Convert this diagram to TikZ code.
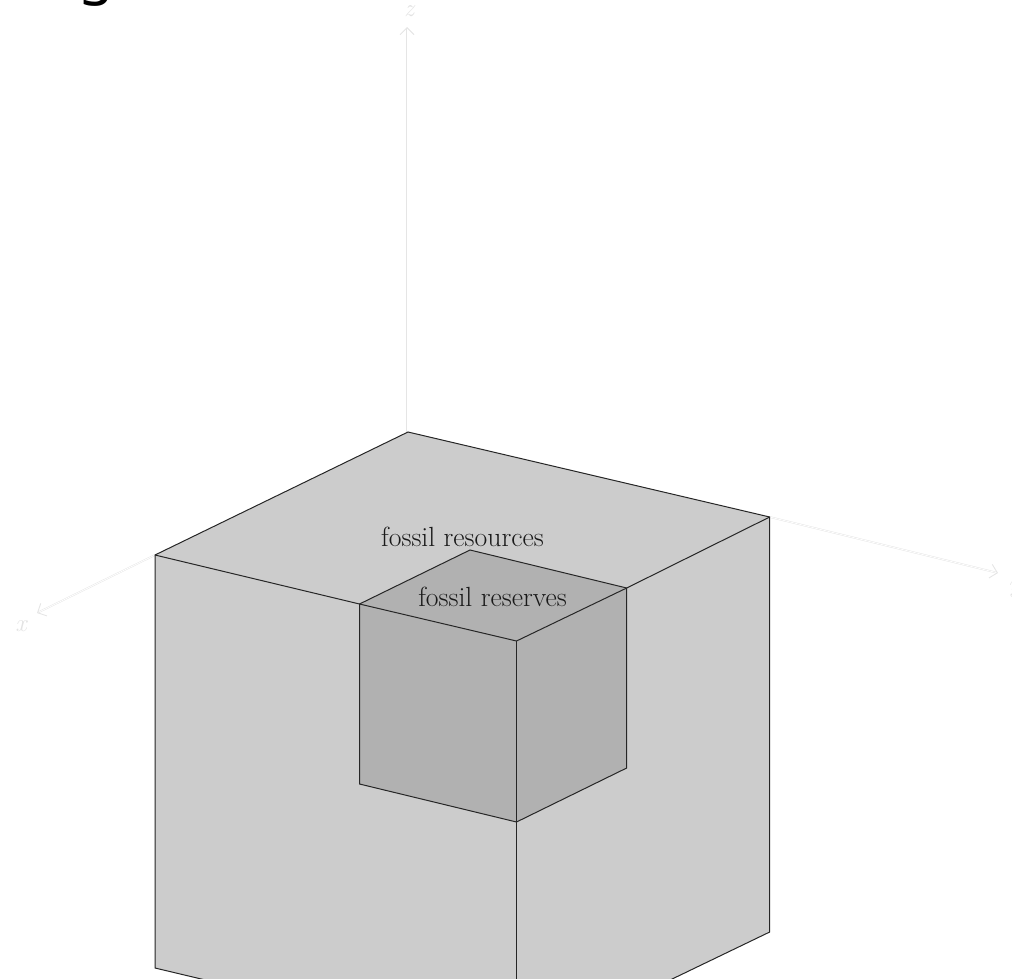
\documentclass[tikz,border=0pt]{standalone}
\usepackage{fontspec}
\newfontfamily\sanshead{Noto Sans}
\usetikzlibrary{arrows.meta}
\definecolor{outerface}{gray}{0.8}
\definecolor{innerface}{gray}{0.695}
\definecolor{faintaxis}{gray}{0.9}
\tikzset{
  facefill/.style={fill=#1,draw=none},
  edgeline/.style={draw=black!85,line width=1pt,line join=miter},
  axisline/.style={draw=faintaxis,double=white,double distance=.8pt,line width=.45pt,-{Straight Barb[length=7pt,width=14pt,line width=.9pt,color=faintaxis]}},
  axislabel/.style={text=black!11,font=\fontsize{25}{25}\selectfont\itshape,inner sep=0pt},
  facelabel/.style={text=black!90,font=\fontsize{27.7}{27.7}\selectfont,inner sep=0pt}
}
\begin{document}
\begin{tikzpicture}[x=1pt,y=-1pt]
\useasboundingbox (0,0) rectangle (1012,979);
% outer cube
\coordinate (OT) at (408,432);
\coordinate (OR) at (769.7,517);
\coordinate (OL) at (155,555);
\coordinate (OF) at (516.5,641);
\coordinate (OBL) at (155,968);
\coordinate (OBR) at (769.7,932);
\coordinate (OBF) at (516.5,1054);
% inner cube
\coordinate (IT) at (470,550);
\coordinate (IR) at (626.7,588);
\coordinate (IL) at (359.5,604);
\coordinate (IF) at (516.5,641);
\coordinate (IBL) at (359.5,784);
\coordinate (IBR) at (626.7,768);
\coordinate (IBF) at (516.5,822);
% axes ends
\coordinate (AO) at (407,432);
\coordinate (AZ) at (407,27);
\coordinate (AX) at (37,613);
\coordinate (AY) at (998,573);
% axes
\draw[axisline] (AO) -- (AZ);
\draw[axisline] (OL) -- (AX);
\draw[axisline] (OR) -- (AY);
\node[axislabel] (lz) at (409,11) {z};
\node[axislabel] (lx) at (21,626) {x};
\node[axislabel] (ly) at (1014,590) {y};
% faces
\path[facefill=outerface] (OT) -- (OR) -- (OBR) -- (OBF) -- (OBL) -- (OL) -- cycle;
\draw[edgeline] (OL) -- (OT) -- (OR) -- (OBR) -- (OBF) -- (OBL) -- cycle;
\draw[edgeline] (OL) -- (IL);
\draw[edgeline] (OR) -- (IR);
\draw[edgeline] (IBF) -- (OBF);
\path[facefill=innerface] (IT) -- (IR) -- (IBR) -- (IBF) -- (IBL) -- (IL) -- cycle;
\draw[edgeline] (IL) -- (IT) -- (IR) -- (IBR) -- (IBF) -- (IBL) -- cycle;
\draw[edgeline] (IL) -- (IF) -- (IR);
\draw[edgeline] (IF) -- (IBF);
\node[facelabel] (res) at (462.5,537) {fossil resources};
\node[facelabel] (rsv) at (492.5,596.4) {fossil reserves};
\node[inner sep=0pt,anchor=base,font=\sanshead\fontsize{58}{58}\selectfont] (head) at (96,-7) {g};
\end{tikzpicture}
\end{document}
